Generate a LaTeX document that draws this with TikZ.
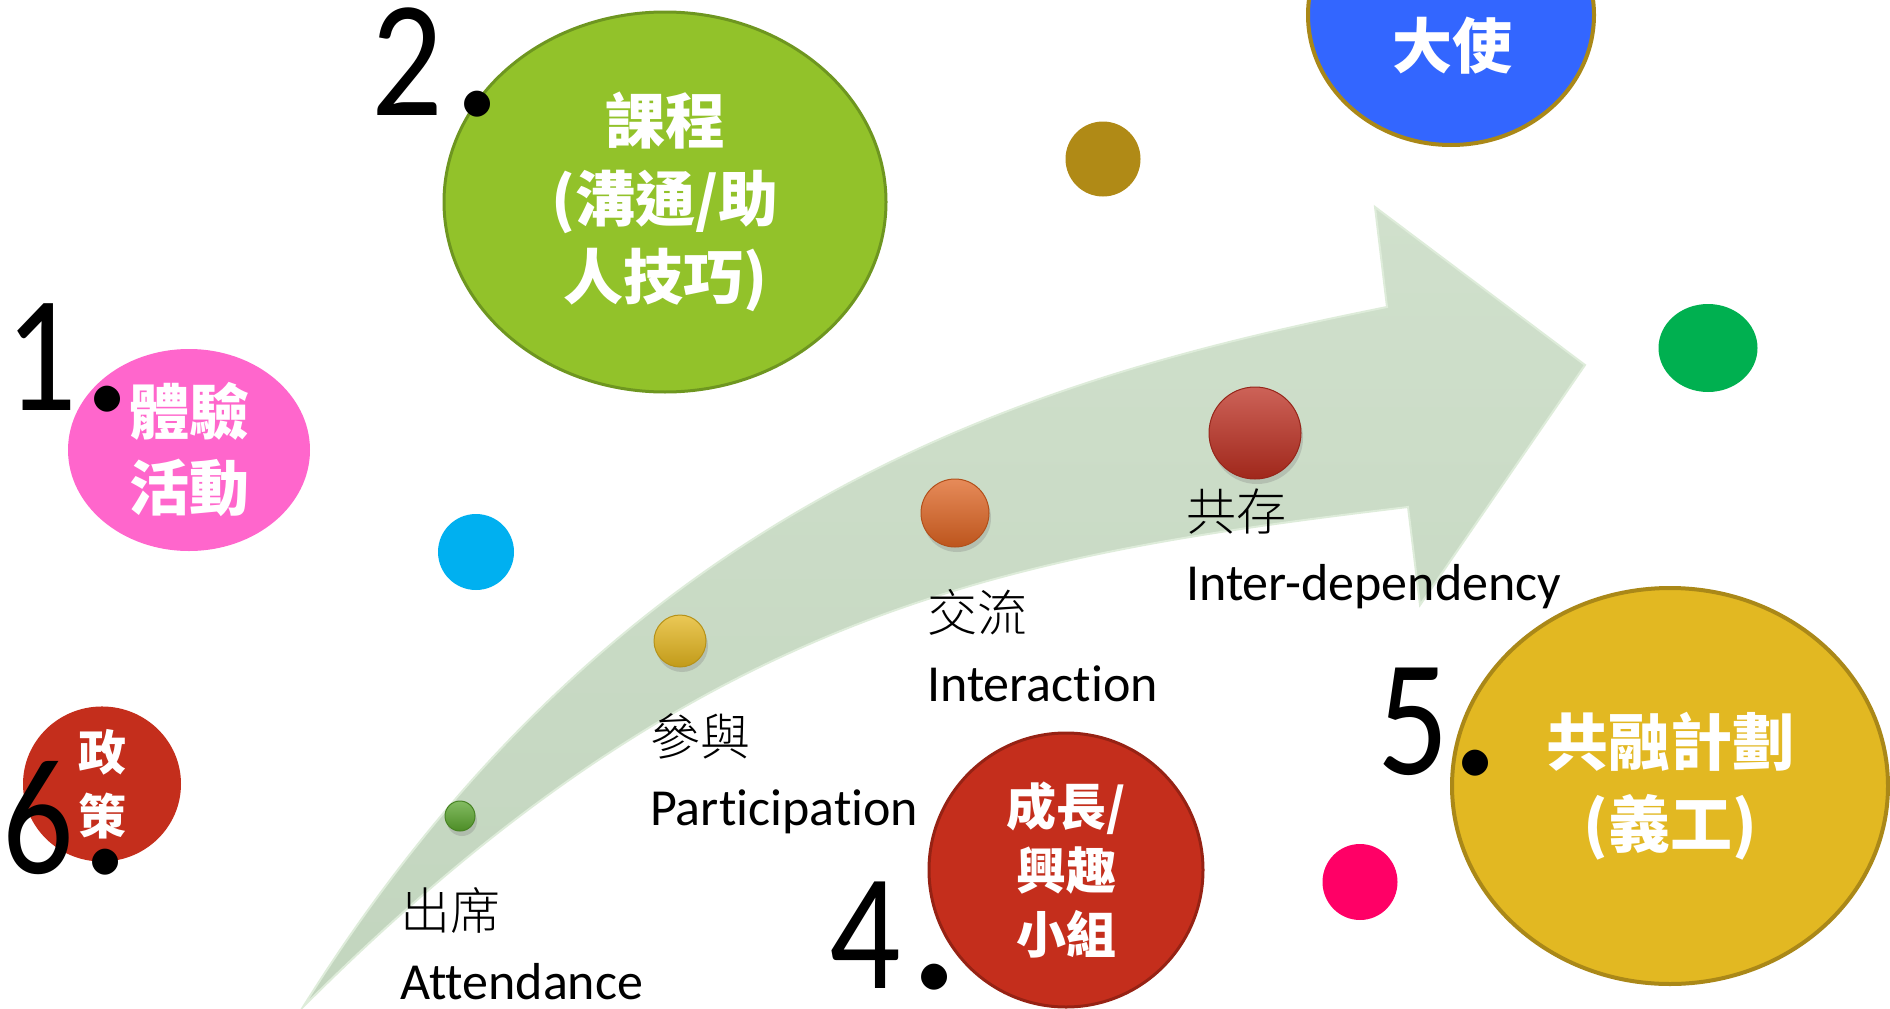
\documentclass[tikz,border=0pt]{standalone}
\usepackage{fontspec}
\setmainfont[Ligatures=NoCommon]{Carlito}
\newfontfamily\zh{Noto Sans CJK TC}
\newfontfamily\zhlight{Noto Sans CJK TC Light}
\newfontfamily\numfont[FakeStretch=0.85]{Carlito}
\newfontfamily\dotfont{Carlito}
\usetikzlibrary{shapes.geometric,shadows}

\definecolor{arrowtop}{RGB}{208,224,204}
\definecolor{arrowbot}{RGB}{194,213,190}
\definecolor{arrowedge}{RGB}{222,236,218}
\definecolor{pinkfill}{RGB}{255,102,204}
\definecolor{limefill}{RGB}{146,194,42}
\definecolor{limeedge}{RGB}{110,150,32}
\definecolor{bluefill}{RGB}{51,102,255}
\definecolor{goldedge}{RGB}{170,136,24}
\definecolor{redfill}{RGB}{196,46,28}
\definecolor{rededge}{RGB}{150,34,20}
\definecolor{yellowfill}{RGB}{226,184,34}
\definecolor{olivedot}{RGB}{176,138,22}
\definecolor{cyandot}{RGB}{0,176,240}
\definecolor{greendot}{RGB}{0,176,80}
\definecolor{rosedot}{RGB}{255,0,102}
\definecolor{ballgreen}{RGB}{90,165,45}
\definecolor{ballyellow}{RGB}{228,182,30}
\definecolor{ballorange}{RGB}{222,100,34}
\definecolor{ballred}{RGB}{188,46,32}

\newcommand{\txtsize}[2]{\fontsize{#1}{#2}\selectfont}
\newcommand{\numdot}[1]{\kern#1pt{\dotfont\txtsize{215}{215}.}}

\begin{document}
\begin{tikzpicture}[x=1pt,y=-1pt,
  bubble/.style n args={3}{ellipse,inner sep=0pt,fill=#1,minimum width=#2pt,minimum height=#3pt,text=white,align=center},
  dot/.style n args={3}{ellipse,inner sep=0pt,fill=#1,minimum width=#2pt,minimum height=#3pt},
  ball/.style={circle,inner sep=0pt,top color=#1!75!white,middle color=#1,bottom color=#1!85!black,draw=#1!80!black,line width=1pt,drop shadow={shadow xshift=2pt,shadow yshift=-5pt,opacity=0.3}},
  stage/.style={anchor=base west,inner sep=0pt,text=black,font=\txtsize{52}{60}},
  num/.style={anchor=base west,inner sep=0pt,font=\numfont\txtsize{166}{166}}]
\useasboundingbox (0,0) rectangle (1890,1009);
\clip (0,0) rectangle (1890,1009);

% arrow
\coordinate (tail) at (303,1007);
\coordinate (upper) at (1387,307);
\coordinate (lower) at (1408,507);
\shade[top color=arrowtop,bottom color=arrowbot,draw=arrowedge,line width=2pt]
  (tail) .. controls (623,495) and (1037,377) .. (upper) -- (1375,207) -- (1585,365)
  -- (1420,605) -- (lower) .. controls (1008,555) and (703,607) .. (tail) -- cycle;

\foreach \name/\x/\y/\d/\col in {attend/460/816/30/ballgreen,partic/680/641/52/ballyellow,%
  interact/955/513/68/ballorange,interdep/1255/433/92/ballred} {
   \node[ball=\col,minimum size=\d pt] (ball-\name) at (\x,\y) {};
}

\foreach \name/\x/\y/\zhtext/\entext in %
{attend/400/999/出席/Attendance,partic/650/825/參與/Participation,%
 interact/927/701/交流/Interaction,interdep/1186/600/共存/Inter-dependency} {
   \node[stage] (\name-en) at (\x,\y) {\entext};
   \node[stage,font=\zhlight\txtsize{50}{60}] (\name-zh) at ([yshift=70pt]\name-en.base west) {\zhtext};
}

% small dots
\node[dot={olivedot}{75}{75}] (dot-olive) at (1103,159) {};
\node[dot={cyandot}{76}{76}] (dot-cyan) at (476,552) {};
\node[dot={greendot}{99}{88}] (dot-green) at (1708,348) {};
\node[dot={rosedot}{75}{76}] (dot-rose) at (1360,882) {};

% bubbles
\node[bubble={pinkfill}{242}{202},font=\zh\bfseries\txtsize{60}{76}] (activity) at (189,450) {體驗\\活動};
\node[bubble={limefill}{442}{380},draw=limeedge,line width=3pt,font=\zh\bfseries\txtsize{60}{78}] (course) at (665,202) {課程\\(溝通/助\\人技巧)};
\node[bubble={bluefill}{286}{260},draw=goldedge,line width=4pt] (ambassador) at (1451,15) {};
\node[text=white,inner sep=0pt,font=\zh\bfseries\txtsize{60}{76}] (ambassador-text) at (1452,46) {大使};
\node[bubble={redfill}{158}{126},font=\zh\bfseries\txtsize{48}{64}] (policy) at (102,784) {政\\策};
\node[bubble={redfill}{274}{274},draw=rededge,line width=3pt,font=\zh\bfseries\txtsize{50}{64}] (group) at (1066,870) {成長/\\興趣\\小組};
\node[bubble={yellowfill}{436}{396},draw=goldedge,line width=4pt,font=\zh\bfseries\txtsize{62}{82}] (inclusion) at (1670,786) {共融計劃\\(義工)};

% numbers
\node[num] (n1) at (5,410) {1\numdot{4}};
\node[num] (n2) at (371,115) {2\numdot{8}};
\node[num] (n4) at (829,988) {4\numdot{7}};
\node[num] (n5) at (1377,774) {5\numdot{0}};
\node[num] (n6) at (2,873) {6\numdot{5}};
\end{tikzpicture}
\end{document}
